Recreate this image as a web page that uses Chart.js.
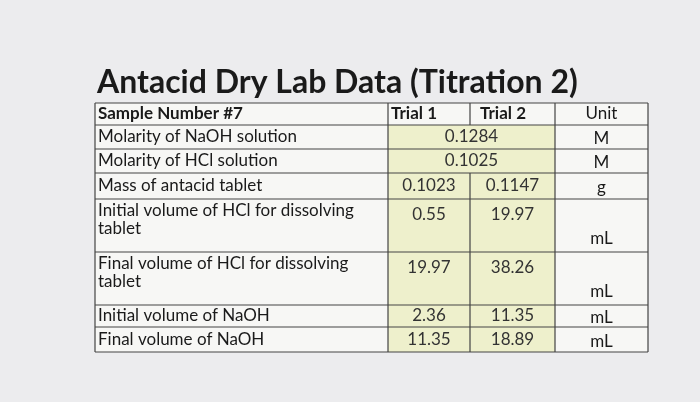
<!DOCTYPE html>
<html><head><meta charset="utf-8">
<script src="https://cdn.jsdelivr.net/npm/chart.js@4/dist/chart.umd.min.js"></script>
<style>html,body{margin:0;padding:0;background:#ececee}canvas{display:block}</style>
</head><body>
<div style="width:700px;height:402px"><canvas id="c"></canvas></div>
<script>
// table content
const titleText = 'Antacid Dry Lab Data (Titration 2)';
const headers = ['Sample Number #7', 'Trial 1', 'Trial 2', 'Unit'];
const rowLabels = [
  ['Molarity of NaOH solution'],
  ['Molarity of HCl solution'],
  ['Mass of antacid tablet'],
  ['Initial volume of HCl for dissolving', 'tablet'],
  ['Final volume of HCl for dissolving', 'tablet'],
  ['Initial volume of NaOH'],
  ['Final volume of NaOH']
];
const trial1 = ['0.1284', '0.1025', '0.1023', '0.55', '19.97', '2.36', '11.35'];
const trial2 = [null, null, '0.1147', '19.97', '38.26', '11.35', '18.89'];
const units = ['M', 'M', 'g', 'mL', 'mL', 'mL', 'mL'];
// column edges and row heights in scale units
const colEdges = [0, 293, 375, 460, 553];
const rowHeights = [22, 24, 24, 26, 53, 53, 22, 25];
const rowEdges = rowHeights.reduce((a, h) => { a.push(a[a.length - 1] + h); return a; }, [0]);

const tablePlugin = {
  id: 'table',
  afterDraw(chart) {
    const ctx = chart.ctx, xs = chart.scales.x, ys = chart.scales.y;
    const X = v => xs.getPixelForValue(v), Y = v => ys.getPixelForValue(v);
    const font = (w, s) => `${w} ${s}px Lato, "Open Sans", sans-serif`;
    ctx.save();
    // table fill
    ctx.fillStyle = '#f7f7f5';
    ctx.fillRect(X(0), Y(0), X(colEdges[4]) - X(0), Y(rowEdges[8]) - Y(0));
    ctx.fillStyle = '#eef0cc';
    ctx.fillRect(X(colEdges[1]), Y(rowEdges[1]), X(colEdges[3]) - X(colEdges[1]), Y(rowEdges[8]) - Y(rowEdges[1]));
    // title
    ctx.fillStyle = '#1a1a1a';
    ctx.font = font('bold', 32);
    ctx.textAlign = 'left'; ctx.textBaseline = 'alphabetic';
    ctx.fillText(titleText, X(0) + 2, Y(0) - 10);
    // grid
    ctx.strokeStyle = '#444'; ctx.lineWidth = 1.2;
    ctx.beginPath();
    rowEdges.forEach(r => { ctx.moveTo(X(0), Y(r)); ctx.lineTo(X(colEdges[4]), Y(r)); });
    [0, 1, 3, 4].forEach(i => { ctx.moveTo(X(colEdges[i]), Y(0)); ctx.lineTo(X(colEdges[i]), Y(rowEdges[8])); });
    ctx.moveTo(X(colEdges[2]), Y(0)); ctx.lineTo(X(colEdges[2]), Y(rowEdges[1]));
    ctx.moveTo(X(colEdges[2]), Y(rowEdges[3])); ctx.lineTo(X(colEdges[2]), Y(rowEdges[8]));
    ctx.stroke();
    // header
    ctx.textBaseline = 'middle';
    const hy = Y(rowHeights[0] / 2);
    ctx.font = font('bold', 17); ctx.fillStyle = '#1a1a1a';
    ctx.fillText(headers[0], X(0) + 3, hy);
    ctx.fillText(headers[1], X(colEdges[1]) + 3, hy);
    ctx.fillText(headers[2], X(colEdges[2]) + 10, hy);
    ctx.font = font('normal', 17); ctx.textAlign = 'center';
    ctx.fillText(headers[3], (X(colEdges[3]) + X(colEdges[4])) / 2, hy);
    // rows
    rowLabels.forEach((lab, i) => {
      const top = Y(rowEdges[i + 1]), bot = Y(rowEdges[i + 2]);
      const tall = lab.length > 1;
      ctx.textAlign = 'left'; ctx.font = font('normal', 17); ctx.fillStyle = '#1a1a1a';
      lab.forEach((l, k) => ctx.fillText(l, X(0) + 3, tall ? top + 12 + k * 18 : (top + bot) / 2));
      const vy = tall ? top + 16 : (top + bot) / 2;
      ctx.textAlign = 'center'; ctx.fillStyle = '#333';
      if (trial2[i] === null) {
        ctx.fillText(trial1[i], X((colEdges[1] + colEdges[3]) / 2), vy);
      } else {
        ctx.fillText(trial1[i], X((colEdges[1] + colEdges[2]) / 2), vy);
        ctx.fillText(trial2[i], X((colEdges[2] + colEdges[3]) / 2), vy);
      }
      ctx.fillStyle = '#1a1a1a';
      ctx.fillText(units[i], X((colEdges[3] + colEdges[4]) / 2), tall ? bot - 13 : (top + bot) / 2 + 2);
    });
    ctx.restore();
  }
};

new Chart(document.getElementById('c'), {
  type: 'scatter',
  data: { datasets: [{ data: [] }] },
  options: {
    responsive: true, maintainAspectRatio: false, animation: false,
    layout: { padding: { left: 95, right: 52, top: 103, bottom: 50 } },
    plugins: { legend: { display: false }, tooltip: { enabled: false } },
    scales: {
      x: { type: 'linear', display: false, min: colEdges[0], max: colEdges[4] },
      y: { type: 'linear', display: false, reverse: true, min: rowEdges[0], max: rowEdges[8] }
    }
  },
  plugins: [tablePlugin]
});
</script>
</body></html>
